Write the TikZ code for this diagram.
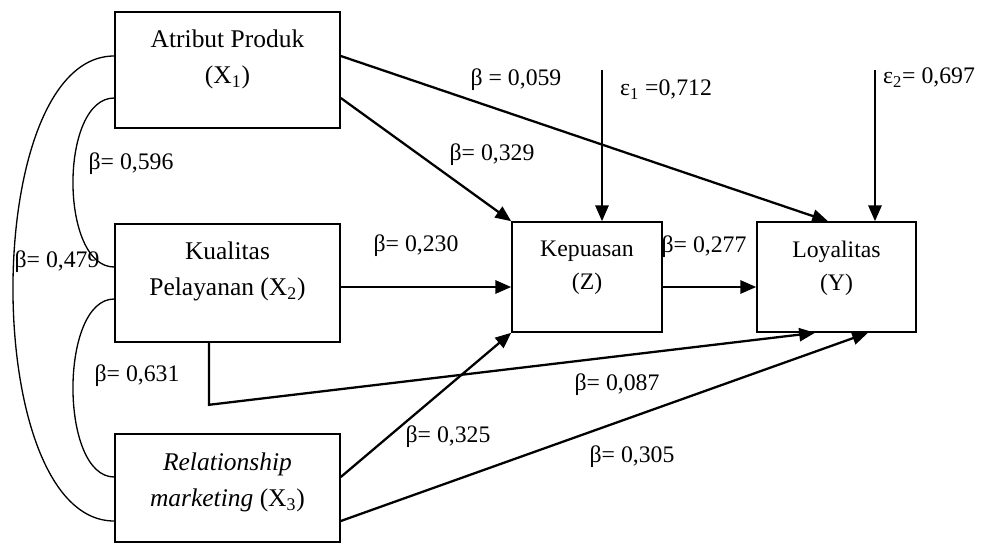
\documentclass[tikz,border=0pt]{standalone}
\usepackage{fontspec}
\setmainfont{Liberation Serif}
\usetikzlibrary{arrows.meta,positioning,calc}

\begin{document}
\begin{tikzpicture}[>={Triangle[length=9pt,width=7.5pt]},
  box/.style={draw, line width=0.9pt, inner sep=0pt},
  boxtext/.style={font=\fontsize{14.5}{20.5}\selectfont, align=center, inner sep=0pt, anchor=north},
  boxtextsm/.style={font=\fontsize{13.5}{18.8}\selectfont, align=center, inner sep=0pt, anchor=north},
  arrowline/.style={->, line width=1.3pt},
  corr/.style={line width=0.75pt},
  coef/.style={font=\fontsize{13.5}{16}\selectfont, inner sep=0pt}]

\useasboundingbox (0,0) rectangle (19.68,-10.88);

% 1. Variable boxes
\node[box, minimum width=4.5cm, minimum height=2.32cm] (atr) at (4.55,-1.40) {};
\node[box, minimum width=4.5cm, minimum height=2.36cm] (kua) at (4.55,-5.66) {};
\node[box, minimum width=4.5cm, minimum height=2.16cm] (rel) at (4.55,-9.76) {};
\node[box, minimum width=3.0cm, minimum height=2.2cm] (kep) at (11.74,-5.54) {};
\node[box, minimum width=3.18cm, minimum height=2.2cm] (loy) at (16.73,-5.54) {};

% 2. Box texts
\node[boxtext] (atrtxt) at ([yshift=-0.36cm]atr.north) {Atribut Produk\\(X\textsubscript{1})};
\node[boxtext] (kuatxt) at ([yshift=-0.36cm]kua.north) {Kualitas\\Pelayanan (X\textsubscript{2})};
\node[boxtext] (reltxt) at ([yshift=-0.38cm]rel.north) {\textit{Relationship}\\\textit{marketing} (X\textsubscript{3})};
\node[boxtextsm] (keptxt) at ([yshift=-0.38cm]kep.north) {Kepuasan\\(Z)};
\node[boxtextsm] (loytxt) at ([yshift=-0.38cm]loy.north) {Loyalitas\\(Y)};

% 3. Error terms
\coordinate (e1top) at (12.04,-1.40);
\coordinate (e2top) at (17.50,-1.40);
\draw[arrowline] (e1top) -- (e1top |- kep.north);
\draw[arrowline] (e2top) -- (e2top |- loy.north);

% 4. Paths
\draw[arrowline] ([yshift=0.28cm]atr.east) -- ([xshift=-0.17cm]loy.north);
\draw[arrowline] ([yshift=-0.56cm]atr.east) -- (kep.north west);
\draw[arrowline] ([yshift=-0.08cm]kua.east) -- ([yshift=-0.08cm]kua.east -| kep.west);
\draw[arrowline] ([yshift=-0.2cm]kep.east) -- ([yshift=-0.2cm]loy.west);
\draw[arrowline] ([xshift=-0.37cm]kua.south) -- ++(0,-1.24) -- ([xshift=-0.43cm]loy.south);
\draw[arrowline] ([yshift=0.22cm]rel.east) -- (kep.south west);
\draw[arrowline] ([yshift=-0.66cm]rel.east) -- ([xshift=0.63cm]loy.south);

% 5. Correlations
\draw[corr] ([yshift=0.28cm]atr.west) .. controls +(-2.7,0) and +(-2.7,0) .. ([yshift=-0.66cm]rel.west);
\draw[corr] ([yshift=-0.56cm]atr.west) .. controls +(-1.1,0) and +(-1.1,0) .. ([yshift=0.32cm]kua.west);
\draw[corr] ([yshift=-0.32cm]kua.west) .. controls +(-1.1,0) and +(-1.1,0) .. ([yshift=0.22cm]rel.west);

% 6. Coefficients
\node[coef] (b059) at (10.32,-1.60) {β = 0,059};
\node[coef] (e1lab) at (13.32,-1.80) {ε\textsubscript{1} =0,712};
\node[coef] (e2lab) at (18.58,-1.56) {ε\textsubscript{2}= 0,697};
\node[coef] (b329) at (9.84,-3.10) {β= 0,329};
\node[coef] (b596) at (2.62,-3.28) {β= 0,596};
\node[coef] (b479) at (1.14,-5.24) {β= 0,479};
\node[coef] (b230) at (8.32,-4.92) {β= 0,230};
\node[coef] (b277) at (14.08,-4.94) {β= 0,277};
\node[coef] (b631) at (2.74,-7.52) {β= 0,631};
\node[coef] (b087) at (12.34,-7.70) {β= 0,087};
\node[coef] (b325) at (8.96,-8.74) {β= 0,325};
\node[coef] (b305) at (12.64,-9.14) {β= 0,305};

\end{tikzpicture}
\end{document}
